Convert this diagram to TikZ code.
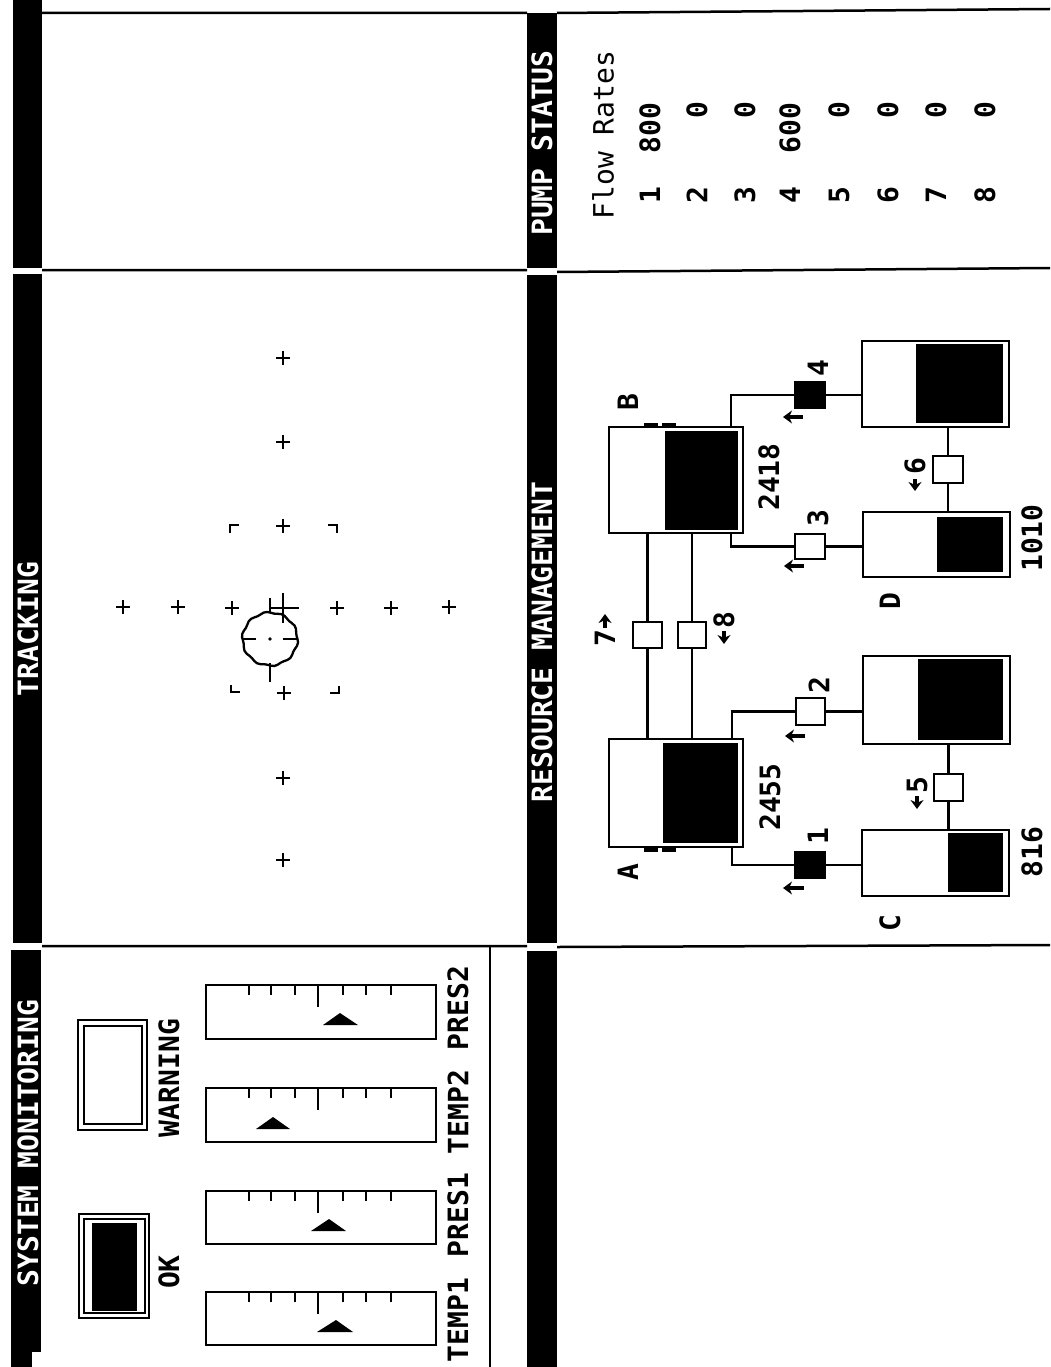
\documentclass[tikz,border=0pt]{standalone}
\usepackage{fontspec}
\setmainfont{DejaVu Sans Mono}
\usetikzlibrary{arrows.meta}
\newcommand{\bxn}[6][]{%
  \pgfmathsetmacro\bxcx{(#3+#5)/2}\pgfmathsetmacro\bxcy{(#4+#6)/2}%
  \pgfmathsetmacro\bxw{#5-#3}\pgfmathsetmacro\bxh{#6-#4}%
  \node[#1,minimum width=\bxw pt,minimum height=\bxh pt] (#2) at (\bxcx,\bxcy) {};%
}
\newcommand{\crossmark}[2]{\draw[thin line] (#1-7,#2) -- (#1+7,#2) (#1,#2-7) -- (#1,#2+7);}
\tikzset{
  box/.style={draw=black,fill=white,line width=2.5pt,inner sep=0pt,outer sep=0pt},
  solid box/.style={draw=none,fill=black,inner sep=0pt,outer sep=0pt},
  band/.style={fill=black,draw=none,inner sep=0pt,outer sep=0pt},
  wire/.style={line width=2.5pt,draw=black},
  thin line/.style={line width=2.3pt,draw=black},
  frame line/.style={line width=2.5pt,draw=black},
  flow/.style={line width=3.4pt,draw=black,-{Stealth[length=9pt,width=13pt]}},
  head/.style={rotate=90,inner sep=0pt,text=white,font=\fontsize{28}{30}\selectfont\bfseries},
  lab/.style={rotate=90,inner sep=0pt,text=black,font=\fontsize{28}{30}\selectfont\bfseries},
  lab2/.style={rotate=90,inner sep=0pt,text=black,font=\fontsize{28}{30}\selectfont},
}
\begin{document}
\begin{tikzpicture}[x=1pt,y=-1pt]
\useasboundingbox (0,0) rectangle (1050,1367);
\fill[white] (0,0) rectangle (1050,1367);

% dark bands
\bxn[band]{bandA}{13}{0}{42}{268}
\bxn[band]{bandB}{13}{274}{42}{943}
\bxn[band]{bandC}{11}{950}{41}{1352}
\bxn[band]{bandD}{11}{1352}{32}{1367}
\bxn[band]{bandE}{527}{13}{557}{268}
\bxn[band]{bandF}{527}{275}{557}{943}
\bxn[band]{bandG}{527}{951}{557}{1367}

% frame lines
\coordinate (t1) at (42,13); \coordinate (t2) at (527,13);
\coordinate (t3) at (557,13); \coordinate (t4) at (1050,9);
\coordinate (m1) at (42,270); \coordinate (m2) at (527,270);
\coordinate (m3) at (557,272); \coordinate (m4) at (1050,268);
\coordinate (n1) at (42,946); \coordinate (n2) at (527,946);
\coordinate (n3) at (557,947); \coordinate (n4) at (1050,945);
\coordinate (v1) at (490,946); \coordinate (v2) at (490,1367);
\draw[frame line] (t1) -- (t2) (t3) -- (t4) (m1) -- (m2) (m3) -- (m4) (n1) -- (n2) (n3) -- (n4);
\draw[frame line] (v1) -- (v2);

% headers
\node[head] (hsys) at (28,1143) {SYSTEM MONITORING};
\node[head] (htrk) at (28,629) {TRACKING};
\node[head] (hres) at (542,642) {RESOURCE MANAGEMENT};
\node[head] (hpump) at (542,143) {PUMP STATUS};

% status lights
\bxn[box]{okA}{79}{1214}{149}{1318}
\bxn[box]{okB}{84}{1219}{145}{1313}
\bxn[solid box]{okC}{92}{1223}{137}{1311}
\bxn[box]{warnA}{78}{1020}{147}{1130}
\bxn[box]{warnB}{84}{1026}{142}{1124}
\node[lab] (okL) at (169,1272) {OK};
\node[lab] (warnL) at (169,1078) {WARNING};

% gauges
\bxn[box]{g1}{206}{1292}{436}{1345}
\bxn[box]{g2}{206}{1191}{436}{1244}
\bxn[box]{g3}{206}{1088}{436}{1142}
\bxn[box]{g4}{206}{985}{436}{1039}
\foreach \g in {1292,1191,1088,985}{
  \foreach \tx in {249,271,295,343,366,391}{
    \draw[thin line] (\tx,\g) -- (\tx,\g+10);
  }
  \draw[thin line] (318,\g) -- (318,\g+22);
}
\fill (317,1332) -- (336,1320) -- (353,1332) -- cycle;
\fill (311,1231) -- (329,1219) -- (346,1231) -- cycle;
\fill (256,1129) -- (273,1117) -- (290,1129) -- cycle;
\fill (323,1025) -- (340,1013) -- (358,1025) -- cycle;
\node[lab] (l1) at (458,1320) {TEMP1};
\node[lab] (l2) at (458,1215) {PRES1};
\node[lab] (l3) at (458,1112) {TEMP2};
\node[lab] (l4) at (458,1008) {PRES2};

% tracking
\crossmark{123}{607}\crossmark{178}{607}\crossmark{232}{608}\crossmark{337}{608}\crossmark{391}{608}\crossmark{449}{607}
\crossmark{283}{358}\crossmark{283}{442}\crossmark{283}{526}\crossmark{284}{693}\crossmark{283}{778}\crossmark{283}{860}
\draw[thin line] (239,525) -- (230,525) -- (230,533);
\draw[thin line] (328,525) -- (337,525) -- (337,533);
\draw[thin line] (231,685) -- (231,692) -- (240,692);
\draw[thin line] (330,693) -- (339,693) -- (339,686);
\draw[thin line] plot[smooth cycle,samples=49,domain=0:352.5] ({270+(27.5+0.8*sin(10*\x))*cos(\x)},{639+(26.5+0.8*sin(10*\x))*sin(\x)});
\draw[thin line] (242,639) -- (256,639) (283,639) -- (298,639);
\fill (270,639) circle (1.8);
\draw[thin line] (270,663) -- (270,682) (270,598) -- (270,613);
\draw[thin line] (270,608) -- (299,608) (283,593) -- (283,623);

% tanks
\bxn[box]{tA}{609}{739}{743}{847}
\bxn[solid box]{fA}{663}{743}{738}{843}
\bxn[box]{tB}{609}{427}{743}{533}
\bxn[solid box]{fB}{665}{431}{738}{530}
\bxn[box]{tC}{862}{830}{1009}{896}
\bxn[solid box]{fC}{948}{833}{1003}{892}
\bxn[box]{tD}{863}{512}{1010}{577}
\bxn[solid box]{fD}{937}{517}{1003}{572}
\bxn[box]{tE}{863}{656}{1010}{744}
\bxn[solid box]{fE}{918}{659}{1003}{740}
\bxn[box]{tF}{862}{341}{1009}{427}
\bxn[solid box]{fF}{916}{344}{1003}{423}
% small marks at tanks A and B
\bxn[solid box]{mA1}{644}{847}{658}{852}
\bxn[solid box]{mA2}{662}{847}{676}{852}
\bxn[solid box]{mB1}{644}{423}{658}{427}
\bxn[solid box]{mB2}{662}{423}{676}{427}

% pumps
\bxn[box,fill=black]{p1}{795}{852}{825}{878}
\bxn[box]{p2}{796}{698}{825}{725}
\bxn[box]{p3}{795}{534}{825}{559}
\bxn[box,fill=black]{p4}{795}{382}{825}{408}
\bxn[box]{p5}{934}{774}{963}{801}
\bxn[box]{p6}{933}{456}{963}{483}
\bxn[box]{p7}{633}{622}{662}{648}
\bxn[box]{p8}{678}{622}{706}{648}

% connectors
\coordinate (aTop) at (732,739);
\coordinate (aBot) at (732,847);
\coordinate (bTop) at (731,427);
\coordinate (bBot) at (731,533);
\draw[wire] (aBot) |- (p1.west);
\draw[wire] (aTop) |- (p2.west);
\draw[wire] (bBot) |- (p3.west);
\draw[wire] (bTop) |- (p4.west);
\draw[wire] (p1.east) -- (p1.east -| tC.west);
\draw[wire] (p2.east) -- (p2.east -| tE.west);
\draw[wire] (p3.east) -- (p3.east -| tD.west);
\draw[wire] (p4.east) -- (p4.east -| tF.west);
\draw[wire] (p5.north) -- (p5.north |- tE.south);
\draw[wire] (p5.south) -- (p5.south |- tC.north);
\draw[wire] (p6.north) -- (p6.north |- tF.south);
\draw[wire] (p6.south) -- (p6.south |- tD.north);
\draw[wire] (p7.north) -- (p7.north |- tB.south);
\draw[wire] (p7.south) -- (p7.south |- tA.north);
\draw[wire] (p8.north) -- (p8.north |- tB.south);
\draw[wire] (p8.south) -- (p8.south |- tA.north);

% flow arrows
\coordinate (f1a) at (804,888); \coordinate (f1b) at (783,888);
\coordinate (f2a) at (805,736); \coordinate (f2b) at (785,736);
\coordinate (f3a) at (804,566); \coordinate (f3b) at (784,566);
\coordinate (f4a) at (803,417); \coordinate (f4b) at (783,417);
\coordinate (f5a) at (917,796); \coordinate (f5b) at (917,809);
\coordinate (f6a) at (915,479); \coordinate (f6b) at (915,491);
\coordinate (f7a) at (605,628); \coordinate (f7b) at (605,614);
\coordinate (f8a) at (724,631); \coordinate (f8b) at (724,644);
\foreach \a/\b in {f1a/f1b,f2a/f2b,f3a/f3b,f4a/f4b,f5a/f5b,f6a/f6b,f7a/f7b,f8a/f8b}{
  \draw[flow] (\a) -- (\b);
}

% tank and pump labels
\node[lab] (lA) at (628,872) {A};
\node[lab] (lB) at (628,402) {B};
\node[lab] (lC) at (890,923) {C};
\node[lab] (lD) at (890,601) {D};
\node[lab] (v2455) at (770,797) {2455};
\node[lab] (v2418) at (769,477) {2418};
\node[lab] (v816) at (1032,852) {816};
\node[lab] (v1010) at (1032,538) {1010};
\node[lab] (n1l) at (818,836) {1};
\node[lab] (n2l) at (819,685) {2};
\node[lab] (n3l) at (818,518) {3};
\node[lab] (n4l) at (818,368) {4};
\node[lab] (n5l) at (917,785) {5};
\node[lab] (n6l) at (915,466) {6};
\node[lab] (n7l) at (605,638) {7};
\node[lab] (n8l) at (724,620) {8};

% pump status
\node[lab2] (flow) at (603,135) {Flow Rates};
\node[lab] (r1) at (650,195) {1};
\node[lab] (r2) at (697,195) {2};
\node[lab] (r3) at (745,195) {3};
\node[lab] (r4) at (790,195) {4};
\node[lab] (r5) at (839,195) {5};
\node[lab] (r6) at (888,195) {6};
\node[lab] (r7) at (936,195) {7};
\node[lab] (r8) at (985,195) {8};
\node[lab] (q1) at (650,128) {800};
\node[lab] (q2) at (697,110) {0};
\node[lab] (q3) at (745,110) {0};
\node[lab] (q4) at (790,128) {600};
\node[lab] (q5) at (839,110) {0};
\node[lab] (q6) at (888,110) {0};
\node[lab] (q7) at (936,110) {0};
\node[lab] (q8) at (985,110) {0};
\end{tikzpicture}
\end{document}
